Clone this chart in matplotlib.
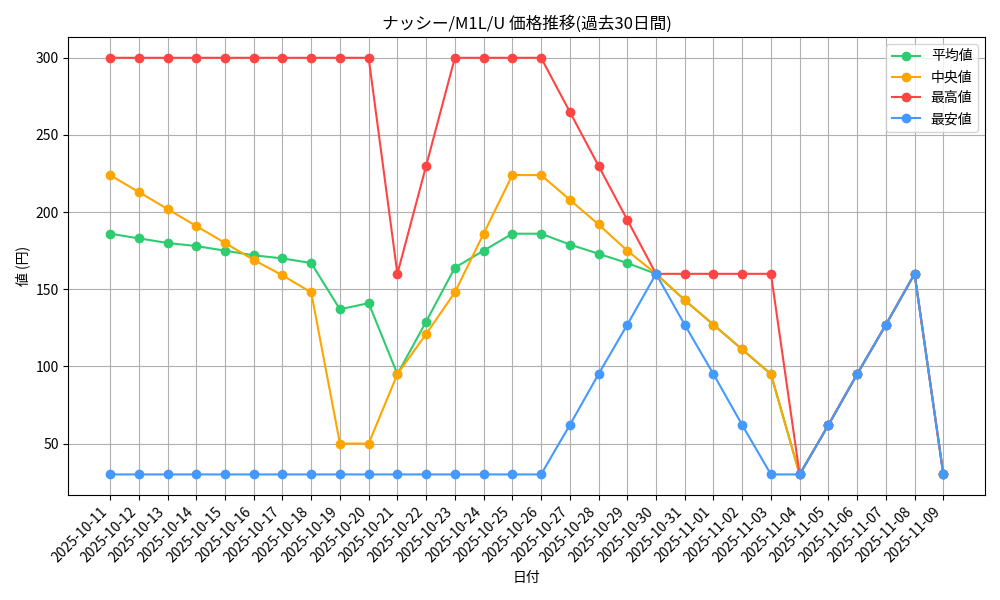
import pandas as pd
import matplotlib
matplotlib.use('Agg')
import matplotlib.pyplot as plt

plt.rcParams['font.family'] = ['Noto Sans CJK JP', 'DejaVu Sans']

dates = pd.date_range('2025-10-11', '2025-11-09').strftime('%Y-%m-%d').tolist()
avg_vals = [186, 183, 180, 178, 175, 172, 170, 167, 137, 141, 95, 129, 164, 175, 186,
            186, 179, 173, 167, 160, 143, 127, 111, 95, 30, 62, 95, 127, 160, 30]
median_vals = [224, 213, 202, 191, 180, 169, 159, 148, 50, 50, 95, 121, 148, 186, 224,
               224, 208, 192, 175, 160, 143, 127, 111, 95, 30, 62, 95, 127, 160, 30]
max_vals = [300, 300, 300, 300, 300, 300, 300, 300, 300, 300, 160, 230, 300, 300, 300,
            300, 265, 230, 195, 160, 160, 160, 160, 160, 30, 62, 95, 127, 160, 30]
min_vals = [30, 30, 30, 30, 30, 30, 30, 30, 30, 30, 30, 30, 30, 30, 30,
            30, 62, 95, 127, 160, 127, 95, 62, 30, 30, 62, 95, 127, 160, 30]

fig, ax = plt.subplots(figsize=(10, 6), dpi=100)
ax.plot(dates, avg_vals, marker='o', color='#2ecc71', label='平均値')
ax.plot(dates, median_vals, marker='o', color='#ffa500', label='中央値')
ax.plot(dates, max_vals, marker='o', color='#ff4444', label='最高値')
ax.plot(dates, min_vals, marker='o', color='#4499ff', label='最安値')

ax.set_title('ナッシー/M1L/U 価格推移(過去30日間)')
ax.set_xlabel('日付')
ax.set_ylabel('値 (円)')
ax.grid(True)
ax.legend(loc='upper right')
plt.xticks(rotation=45, ha='right')
plt.tight_layout()
plt.savefig('out.png')
